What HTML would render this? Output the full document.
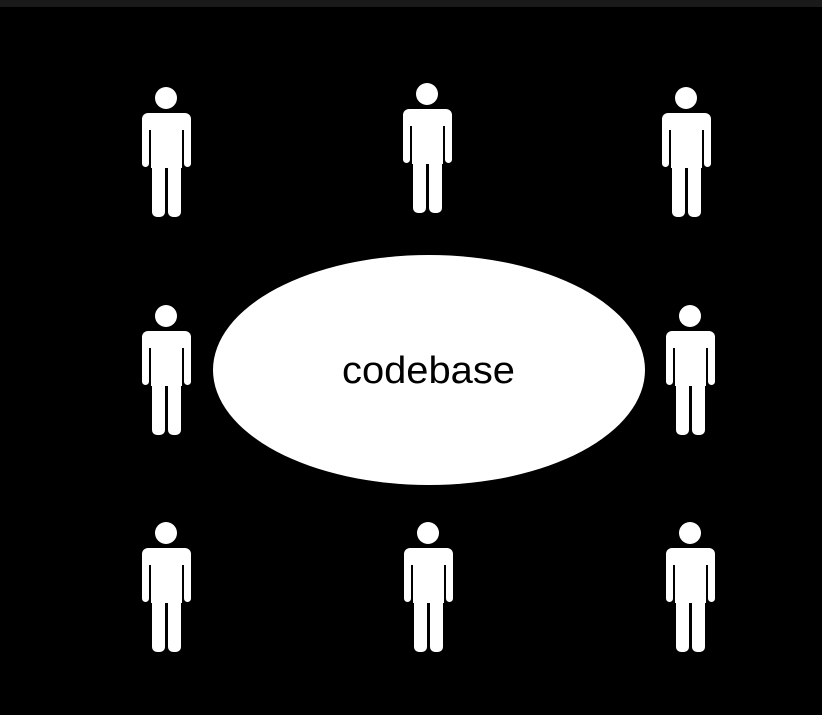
<!DOCTYPE html>
<html><head><style>
html,body{margin:0;padding:0;background:#000;}
svg{display:block;}
</style></head><body>
<svg width="822" height="715" viewBox="0 0 822 715" xmlns="http://www.w3.org/2000/svg">
<defs>
<g id="p" fill="#fff">
<circle cx="0" cy="0" r="11"/>
<rect x="-24" y="15" width="49" height="17" rx="6"/>
<rect x="-24" y="20" width="7" height="49" rx="3.5"/>
<rect x="18" y="20" width="7" height="49" rx="3.5"/>
<rect x="-15" y="20" width="31" height="50"/>
<rect x="-14" y="60" width="13" height="59" rx="5"/>
<rect x="2" y="60" width="13" height="59" rx="5"/>
</g>
</defs>
<rect x="0" y="0" width="822" height="715" fill="#000"/>
<rect x="0" y="0" width="822" height="7" fill="#1a1a1a"/>
<use href="#p" x="166" y="98"/>
<use href="#p" x="427" y="94"/>
<use href="#p" x="686" y="98"/>
<use href="#p" x="166" y="316"/>
<use href="#p" x="690" y="316"/>
<use href="#p" x="166" y="533"/>
<use href="#p" x="428" y="533"/>
<use href="#p" x="690" y="533"/>
<ellipse cx="429" cy="370" rx="216" ry="115" fill="#fff"/>
<text x="342" y="383" font-family="Liberation Sans, sans-serif" font-size="38" fill="#000" textLength="173" lengthAdjust="spacingAndGlyphs">codebase</text>
</svg>
</body></html>
